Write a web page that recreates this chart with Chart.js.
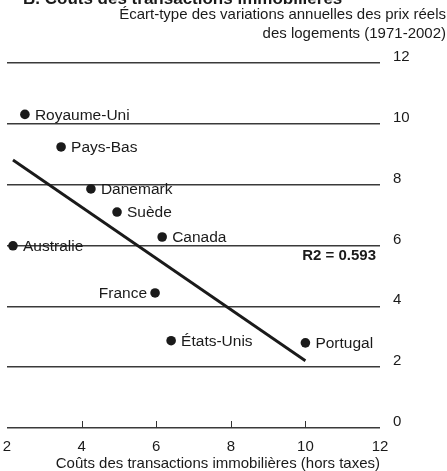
<!DOCTYPE html>
<html>
<head>
<meta charset="utf-8">
<script src="https://cdn.jsdelivr.net/npm/chart.js@4"></script>
<style>
  html, body { margin: 0; padding: 0; background: #fff; }
  #wrap { width: 447px; height: 471px; position: relative; }
</style>
</head>
<body>
<div id="wrap"><canvas id="costChart"></canvas></div>
<script>
// Data
var countries = ['Royaume-Uni', 'Pays-Bas', 'Danemark', 'Suède', 'Canada', 'Australie', 'France', 'États-Unis', 'Portugal'];
var costs = [2.48, 3.45, 4.25, 4.95, 6.16, 2.16, 5.97, 6.40, 10.0];         // x: transaction costs
var volatility = [10.31, 9.24, 7.86, 7.10, 6.28, 5.99, 4.44, 2.87, 2.80];    // y: std dev of real house price changes
var labelSide = ['right', 'right', 'right', 'right', 'right', 'right', 'left', 'right', 'right'];
var trendX = [2.16, 10.0];
var trendY = [8.81, 2.21];
var xTicks = [2, 4, 6, 8, 10, 12];
var yTicks = [0, 2, 4, 6, 8, 10, 12];
var r2Text = 'R2 = 0.593';

var chartTitle = 'B. Coûts des transactions immobilières';
var yTitle = ['Écart-type des variations annuelles des prix réels', 'des logements (1971-2002)'];
var xTitle = 'Coûts des transactions immobilières (hors taxes)';

var FONT = '"Liberation Sans", Arial, Helvetica, sans-serif';
var INK = '#1a1a1a';

var points = costs.map(function (c, i) { return { x: c, y: volatility[i] }; });
var trend = trendX.map(function (x, i) { return { x: x, y: trendY[i] }; });

// draws texts that are not part of the axes: titles, point names, R2, small x ticks
var annotate = {
  id: 'annotate',
  afterDraw: function (chart) {
    var c = chart.ctx;
    var xs = chart.scales.x, ys = chart.scales.y;
    c.save();

    // main title, cut by the top edge
    c.fillStyle = INK;
    c.font = 'bold 17px ' + FONT;
    c.textAlign = 'left';
    c.textBaseline = 'alphabetic';
    c.fillText(chartTitle, 23, 4);

    // y axis title, top right
    c.font = '15px ' + FONT;
    c.textAlign = 'right';
    c.fillText(yTitle[0], 446, 19);
    c.fillText(yTitle[1], 446, 38);

    // small upward ticks on the x axis
    c.strokeStyle = '#333';
    c.lineWidth = 1;
    xTicks.slice(1, -1).forEach(function (v) {
      var px = Math.round(xs.getPixelForValue(v)) + 0.5;
      c.beginPath();
      c.moveTo(px, ys.getPixelForValue(0));
      c.lineTo(px, ys.getPixelForValue(0) - 7);
      c.stroke();
    });

    // country names
    var meta = chart.getDatasetMeta(0);
    c.font = '15.5px ' + FONT;
    c.textBaseline = 'middle';
    meta.data.forEach(function (pt, i) {
      if (labelSide[i] === 'left') {
        c.textAlign = 'right';
        c.fillText(countries[i], pt.x - 8, pt.y + 1);
      } else {
        c.textAlign = 'left';
        c.fillText(countries[i], pt.x + 10, pt.y + 1);
      }
    });

    // R2
    c.font = 'bold 15px ' + FONT;
    c.textAlign = 'right';
    c.fillText(r2Text, 376, ys.getPixelForValue(6) + 10);

    c.restore();
  }
};

new Chart(document.getElementById('costChart'), {
  type: 'scatter',
  data: {
    datasets: [{
      data: points,
      backgroundColor: INK,
      borderWidth: 0,
      pointRadius: 4.8,
      pointHoverRadius: 4.8
    }, {
      type: 'line',
      data: trend,
      borderColor: INK,
      borderWidth: 2.8,
      pointRadius: 0,
      fill: false
    }]
  },
  options: {
    responsive: true,
    maintainAspectRatio: false,
    animation: false,
    events: [],
    layout: { padding: { top: 63, left: 7, right: 0, bottom: 0 } },
    plugins: {
      legend: { display: false },
      tooltip: { enabled: false }
    },
    scales: {
      x: {
        type: 'linear',
        min: 2,
        max: 12,
        afterBuildTicks: function (scale) {
          scale.ticks = xTicks.map(function (v) { return { value: v }; });
        },
        grid: { display: false, drawTicks: false },
        border: { display: false },
        ticks: {
          color: INK,
          font: { family: FONT, size: 15 },
          padding: 10,
          maxRotation: 0,
          autoSkip: false
        },
        title: {
          display: true,
          text: xTitle,
          align: 'end',
          color: INK,
          font: { family: FONT, size: 15, lineHeight: 1 },
          padding: { top: 0, bottom: 0 }
        },
        afterFit: function (scale) {
          scale.height = 43;
          scale.paddingLeft = 0;
          scale.paddingRight = 0;
        }
      },
      y: {
        type: 'linear',
        position: 'right',
        min: 0,
        max: 12,
        afterBuildTicks: function (scale) {
          scale.ticks = yTicks.map(function (v) { return { value: v }; });
        },
        grid: { color: '#3a3a3a', lineWidth: 1.5, drawTicks: false },
        border: { display: false },
        ticks: {
          color: INK,
          font: { family: FONT, size: 15 },
          padding: 13,
          labelOffset: -6
        },
        afterFit: function (scale) {
          scale.width = 67;
          scale.paddingTop = 0;
          scale.paddingBottom = 0;
        }
      }
    }
  },
  plugins: [annotate]
});
</script>
</body>
</html>
